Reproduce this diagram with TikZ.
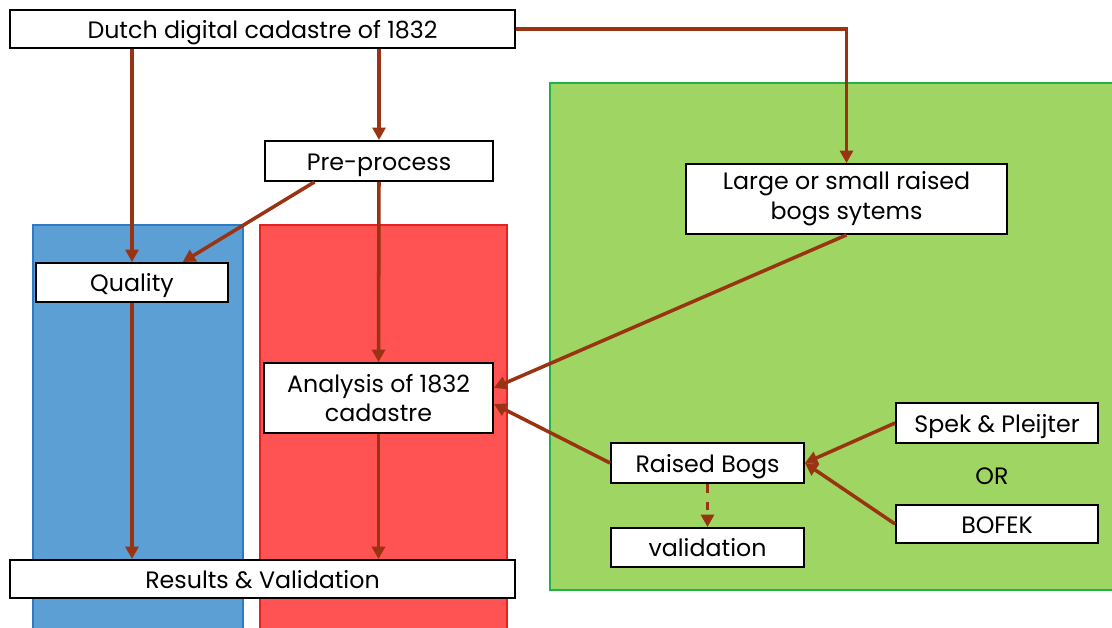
\documentclass[tikz,border=0pt]{standalone}
\usepackage{fontspec}
\setmainfont{Poppins}
\usepackage{xcolor}
\definecolor{flowArrow}{HTML}{993311}
\definecolor{panelBlue}{HTML}{5B9FD5}
\definecolor{panelBlueLine}{HTML}{2E7BC4}
\definecolor{panelRed}{HTML}{FF5252}
\definecolor{panelRedLine}{HTML}{E82020}
\definecolor{panelGreen}{HTML}{9FD562}
\definecolor{panelGreenLine}{HTML}{22B04A}
\usetikzlibrary{arrows.meta,positioning}
\tikzset{
  stepbox/.style={
    draw=black,
    fill=white,
    line width=1.1pt,
    align=center,
    font=\fontsize{13.5}{17}\selectfont,
    inner sep=2pt
  },
  onerow/.style={
    stepbox,
    text height=1.25em,
    text depth=0.22em
  },
  flowline/.style={
    draw=flowArrow,
    line width=2pt,
    -{Triangle[length=2.5mm,width=2.6mm]}
  }
}

\begin{document}
\begin{tikzpicture}[x=0.02cm,y=-0.02cm]
  \useasboundingbox (0,0) rectangle (1112,628);
  % coloured panels behind the flow
  \filldraw[fill=panelBlue,draw=panelBlueLine,line width=0.8pt] (33,640) -- (33,225) -- (243,225) -- (243,640);
  \filldraw[fill=panelRed,draw=panelRedLine,line width=0.8pt] (260,640) -- (260,225) -- (507,225) -- (507,640);
  \filldraw[fill=panelGreen,draw=panelGreenLine,line width=0.8pt] (550,83) rectangle (1125,590);

  \node[onerow,minimum width=10.1cm,minimum height=0.76cm] (dutch) at (262.5,29) {Dutch digital cadastre of 1832};
  \node[onerow,minimum width=4.56cm,minimum height=0.8cm] (pre) at (379,161) {Pre-process};
  \node[stepbox,minimum width=6.42cm,minimum height=1.4cm] (large) at (846.5,199) {Large or small raised\\bogs sytems};
  \node[onerow,minimum width=3.84cm,minimum height=0.78cm] (quality) at (132,282.5) {Quality};
  \node[stepbox,minimum width=4.58cm,minimum height=1.4cm] (analysis) at (378.5,398) {Analysis of 1832\\cadastre};
  \node[onerow,minimum width=4.04cm,minimum height=0.8cm] (spek) at (997,423) {Spek \& Pleijter};
  \node[font=\fontsize{13.5}{17}\selectfont] (orlabel) at (992,476) {OR};
  \node[onerow,minimum width=4.04cm,minimum height=0.76cm] (bofek) at (997,524) {BOFEK};
  \node[onerow,minimum width=3.86cm,minimum height=0.8cm] (raised) at (707.5,463) {Raised Bogs};
  \node[onerow,minimum width=3.86cm,minimum height=0.78cm] (valid) at (707.5,547.5) {validation};
  \node[onerow,minimum width=10.1cm,minimum height=0.76cm] (results) at (262.5,579) {Results \& Validation};

  % connectors
  \draw[flowline] (quality.north |- dutch.south) -- (quality.north);
  \draw[flowline] (pre.north |- dutch.south) -- (pre.north);
  \draw[flowline] (dutch.east) -| (large.north);
  \draw[flowline] (pre.198) -- (quality.22);
  \draw[flowline] (pre.south) -- (analysis.north);
  \draw[flowline] (large.south) -- (analysis.5);
  \draw[flowline] (raised.west) -- (analysis.-3);
  \draw[flowline] (spek.west) -- (raised.east);
  \draw[flowline] (bofek.west) -- (raised.east);
  \draw[flowline,dash pattern=on 5pt off 5pt] (raised.south) -- (valid.north);
  \draw[flowline] (quality.south) -- (quality.south |- results.north);
  \draw[flowline] (analysis.south) -- (analysis.south |- results.north);
\end{tikzpicture}
\end{document}
